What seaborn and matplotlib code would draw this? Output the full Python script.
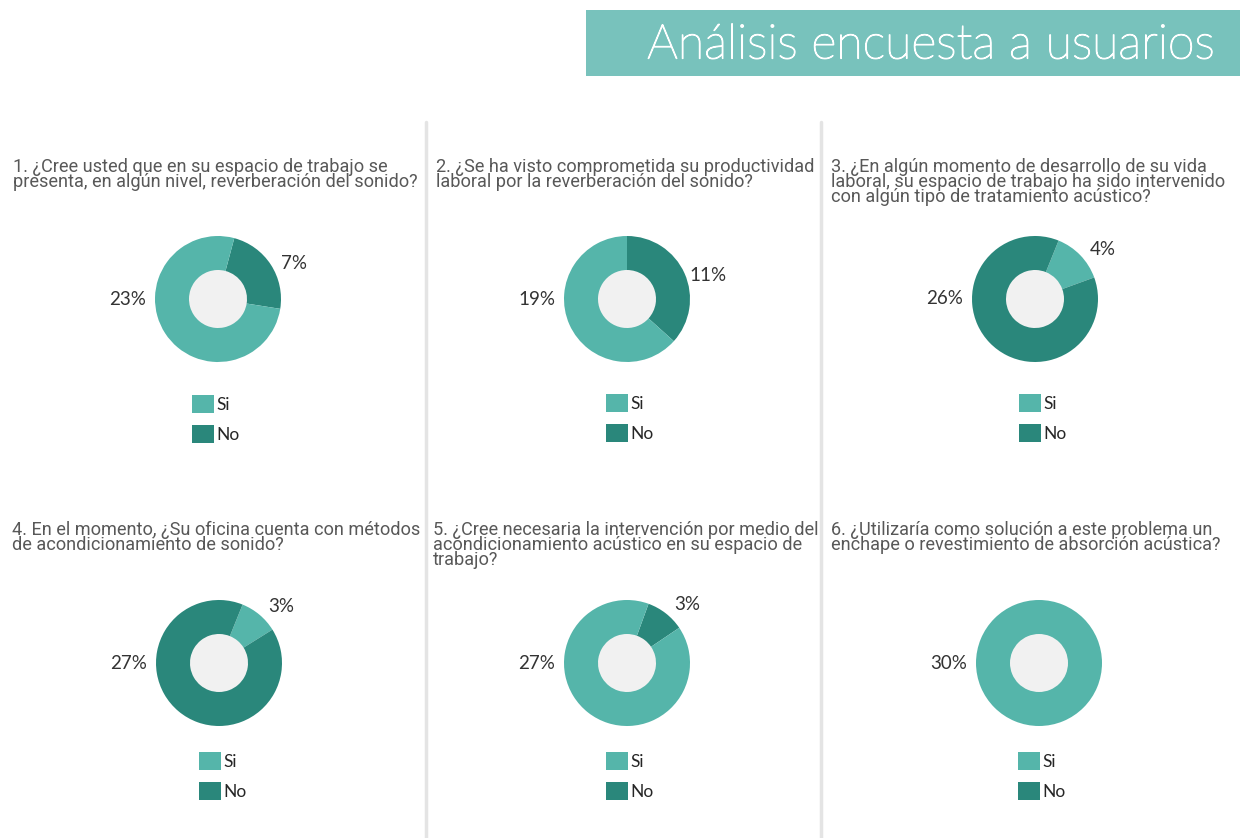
import numpy as np
import matplotlib
matplotlib.use("Agg")
import matplotlib.pyplot as plt
import matplotlib.patheffects as pe
import seaborn as sns

# ---------------- data ----------------
questions = [
    "1. ¿Cree usted que en su espacio de trabajo se\npresenta, en algún nivel, reverberación del sonido?",
    "2. ¿Se ha visto comprometida su productividad\nlaboral por la reverberación del sonido?",
    "3. ¿En algún momento de desarrollo de su vida\nlaboral, su espacio de trabajo ha sido intervenido\ncon algún tipo de tratamiento acústico?",
    "4. En el momento, ¿Su oficina cuenta con métodos\nde acondicionamiento de sonido?",
    "5. ¿Cree necesaria la intervención por medio del\nacondicionamiento acústico en su espacio de\ntrabajo?",
    "6. ¿Utilizaría como solución a este problema un\nenchape o revestimiento de absorción acústica?",
]
categories = ["Si", "No"]
si_values = [23, 19, 4, 3, 27, 30]
no_values = [7, 11, 26, 27, 3, 0]
title = "Análisis encuesta a usuarios"

# ---------------- style ----------------
sns.set_theme(style="white")
plt.rcParams["font.family"] = ["Roboto", "DejaVu Sans"]
col_si = "#55b5aa"
col_no = "#2a877b"
hole_col = "#f1f1f1"
q_col = "#585858"
lbl_col = "#333333"

W, H = 1245, 838
fig = plt.figure(figsize=(W / 100, H / 100), dpi=100)
fig.patch.set_facecolor("white")

def fx(x):
    return x / W

def fy(y):
    return 1 - y / H

# title band
fig.patches.append(plt.Rectangle((fx(586), fy(76)), fx(1240) - fx(586), fy(10) - fy(76),
                                 transform=fig.transFigure, facecolor="#78c2bc",
                                 edgecolor="none", zorder=0))
fig.text(fx(931), fy(46), title, color="white", fontsize=34.8, family=["Lato", "DejaVu Sans"],
         fontweight="light", ha="center", va="center",
         path_effects=[pe.withStroke(linewidth=0.9, foreground="white")])

# separators
for xs in (426, 821):
    fig.lines.append(plt.Line2D([fx(xs), fx(xs)], [fy(122), fy(838)], transform=fig.transFigure,
                                color="#e4e4e4", linewidth=2.5))

# layout per chart
centers = [(218, 299), (627, 299), (1035, 299), (219, 663), (627, 663), (1039, 663)]
text_pos = [(13, 158), (436, 158), (831, 158), (12, 521), (433, 521), (831, 521)]
legend_pos = [(192, 395), (606, 394), (1019, 394), (199, 752), (606, 752), (1018, 752)]
offsets = [15, 0, 22, 22, 20, 0]

R = 63.0
S = 260.0
L = (S / 2) / R

for i in range(6):
    cx, cy = centers[i]
    si, no = si_values[i], no_values[i]
    ax = fig.add_axes([fx(cx - S / 2), fy(cy + S / 2), fx(S), S / H])
    small_first_is_si = si < no
    if small_first_is_si:
        vals = [si, no]
        cols = [col_si, col_no]
    else:
        vals = [no, si]
        cols = [col_no, col_si]
    wedges, _ = ax.pie(vals, colors=cols, startangle=90 - offsets[i], counterclock=False,
                       radius=1.0, wedgeprops=dict(width=1 - 29 / 63, edgecolor="none"))
    ax.add_patch(plt.Circle((0, 0), 29 / 63, color=hole_col, zorder=0))
    ax.set_xlim(-L, L)
    ax.set_ylim(-L, L)
    ax.set_aspect("equal")
    ax.axis("off")

    small_w = wedges[0]
    small_v, large_v = vals[0], vals[1]
    if small_v > 0:
        mid = np.deg2rad((small_w.theta1 + small_w.theta2) / 2 - 8)
        ax.text(1.33 * np.cos(mid), 1.33 * np.sin(mid), f"{small_v}%", ha="center", va="center",
                fontsize=13.5, color=lbl_col, family=["Lato", "DejaVu Sans"])
    ax.text(-1.43, 0.0, f"{large_v}%", ha="center", va="center",
            fontsize=13.5, color=lbl_col, family=["Lato", "DejaVu Sans"])

    if small_first_is_si:
        handles = [wedges[0], wedges[1]]
    else:
        handles = [wedges[1], wedges[0]]
    lx, ly = legend_pos[i]
    fig.legend(handles, categories, loc="upper left", bbox_to_anchor=(fx(lx), fy(ly)),
               bbox_transform=fig.transFigure, frameon=False,
               handlelength=1.25, handleheight=1.25, handletextpad=0.15, labelspacing=0.65,
               borderpad=0, borderaxespad=0,
               prop={"family": ["Lato", "DejaVu Sans"], "size": 12.5})

    tx, ty = text_pos[i]
    fig.text(fx(tx), fy(ty), questions[i], ha="left", va="top", fontsize=13.1,
             color=q_col, linespacing=0.78)

fig.savefig("out.png", dpi=100, facecolor="white")
